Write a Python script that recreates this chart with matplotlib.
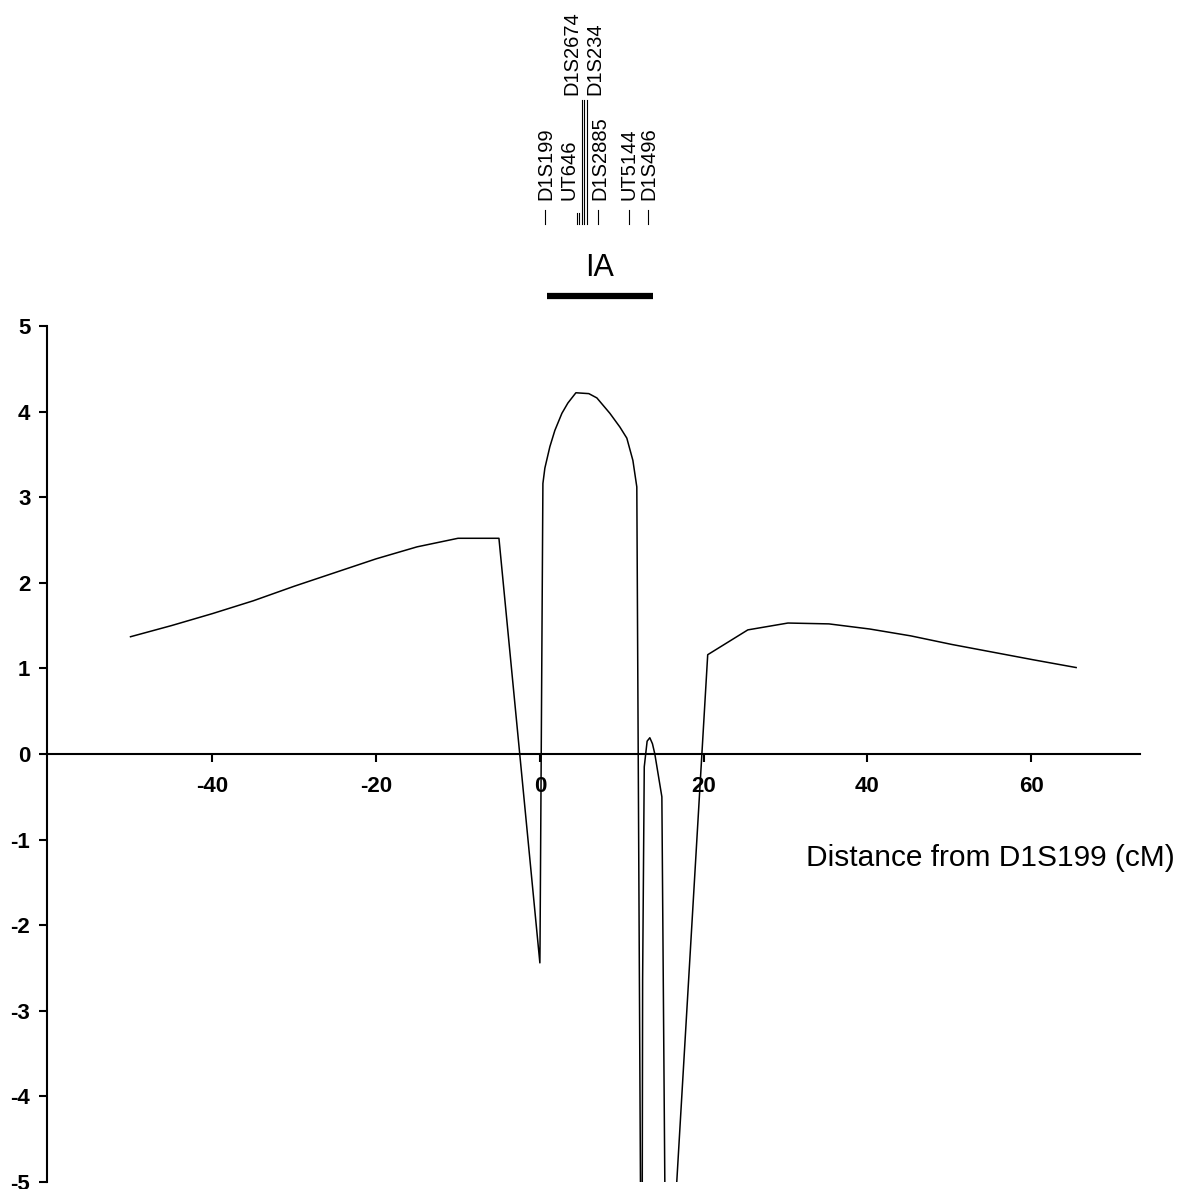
import numpy as np
import matplotlib
matplotlib.use("Agg")
import matplotlib.pyplot as plt

# --- Data ---
# LOD-type score vs distance from D1S199 (cM)
dist_cm = [-50, -45, -40, -35, -30, -25, -20, -15, -10, -5,
           0, 0.02,
           0.37, 0.61, 1.22, 1.83, 2.69, 3.42, 4.40, 5.98, 6.96, 8.55, 9.77, 10.62, 11.36, 11.84,
           12.45, 12.55, 12.75, 13.1, 13.43, 13.75, 14.04, 14.9, 15.43,
           20.5, 25.4, 30.3, 35.3, 40.3, 45.3, 50.3, 55.3, 60.3, 65.5]
score = [1.37, 1.50, 1.64, 1.79, 1.96, 2.12, 2.28, 2.42, 2.52, 2.52,
         -2.44, -2.22,
         3.16, 3.34, 3.59, 3.78, 3.98, 4.10, 4.22, 4.21, 4.16, 3.98, 3.82, 3.69, 3.43, 3.12,
         -8.0, -2.64, -0.15, 0.15, 0.19, 0.12, 0.0, -0.5, -7.1,
         1.16, 1.45, 1.53, 1.52, 1.46, 1.38, 1.28, 1.19, 1.10, 1.01]

x_ticks = [-40, -20, 0, 20, 40, 60]
y_ticks = [-5, -4, -3, -2, -1, 0, 1, 2, 3, 4, 5]

# markers on top: name, map positions of the little lines, label position
marker_names = ['D1S199', 'UT646', 'D1S2674', 'D1S234', 'D1S2885', 'UT5144', 'D1S496']
marker_lines = [[0.61], [4.50, 4.80], [5.10, 5.40], [5.72], [7.08], [10.87], [13.19]]
marker_label_x = [0.73, 3.54, 3.9, 6.7, 7.3, 10.93, 13.37]
marker_upper = [False, False, True, True, False, False, False]

region_name = 'IA'
region_span = [0.85, 13.8]

plt.rcParams['font.family'] = ['Liberation Sans', 'DejaVu Sans']
plt.rcParams['axes.unicode_minus'] = False

W, H = 1178, 1189
fig = plt.figure(figsize=(W / 100, H / 100), dpi=100)

# main axes (pixel box: x 47..1140, y 326..1182)
ax = fig.add_axes([47 / W, (H - 1182) / H, (1140 - 47) / W, (1182 - 326) / H])
ax.plot(dist_cm, score, color='black', linewidth=1.1)
ax.set_xlim(-60.2, 73.3)
ax.set_ylim(-5, 5)

for s in ['top', 'right']:
    ax.spines[s].set_visible(False)
ax.spines['bottom'].set_position(('data', 0))
ax.spines['bottom'].set_linewidth(1.5)
ax.spines['left'].set_linewidth(1.5)

ax.set_xticks(x_ticks)
ax.set_yticks(y_ticks)
ax.tick_params(axis='x', direction='out', length=6, width=1.5, pad=10, labelsize=16)
ax.tick_params(axis='y', direction='out', length=6, width=1.5, pad=6, labelsize=16)
for lab in ax.get_xticklabels() + ax.get_yticklabels():
    lab.set_fontweight('bold')

ax.set_xlabel('Distance from D1S199 (cM)', fontsize=21.5, ha='right', va='center')
ax.xaxis.set_label_coords(1.032, 0.3785)

# top panel with the marker map, sharing the cM scale
ax_top = fig.add_axes([47 / W, (H - 310) / H, (1140 - 47) / W, 310 / H], sharex=ax)
ax_top.set_ylim(310, 0)
ax_top.axis('off')

for name, lines, lx, upper in zip(marker_names, marker_lines, marker_label_x, marker_upper):
    top = 100 if upper else (213 if len(lines) > 1 else 210)
    for p in lines:
        ax_top.plot([p, p], [top, 224], color='black', linewidth=0.8)
    ax_top.text(lx, 95 if upper else 200, name, rotation=90, ha='center', va='bottom',
                fontsize=14.5)

ax_top.text(np.mean(region_span), 268, region_name, ha='center', va='center', fontsize=22)
ax_top.plot(region_span, [296, 296], color='black', linewidth=4.5, solid_capstyle='butt')

fig.savefig('out.png', dpi=100)
